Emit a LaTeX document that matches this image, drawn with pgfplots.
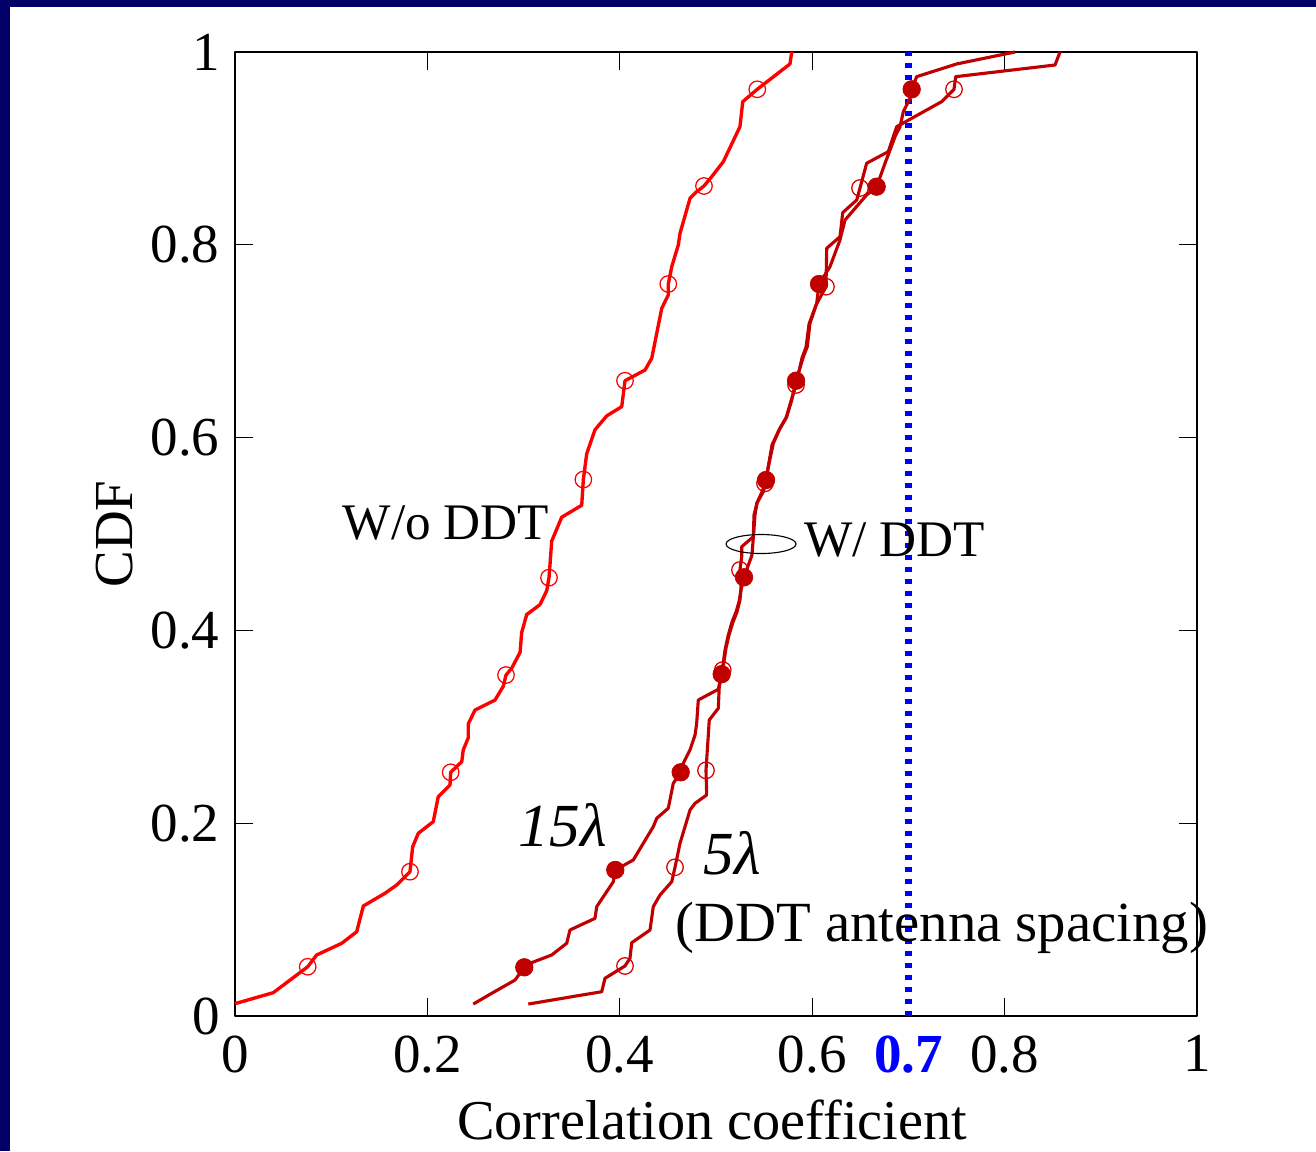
\documentclass[border=0pt]{standalone}
\usepackage{fontspec}
\setmainfont{Liberation Serif}
\usepackage{pgfplots}
\pgfplotsset{compat=1.18}
\definecolor{navy}{RGB}{0,0,102}
\definecolor{dred}{RGB}{192,0,0}
\begin{document}
\begin{tikzpicture}
\fill[navy] (0,0) rectangle (526.4pt,460.4pt);
\fill[white] (4pt,0) rectangle (526.4pt,457.6pt);
\begin{axis}[
  at={(94pt,54pt)}, anchor=south west,
  scale only axis, width=384.8pt, height=385.6pt,
  xmin=0, xmax=1, ymin=0, ymax=1,
  clip=false,
  xtick={0,0.2,0.4,0.6,0.8,1}, xticklabels={0,0.2,0.4,0.6,0.8,1},
  ytick={0,0.2,0.4,0.6,0.8,1}, yticklabels={0,0.2,0.4,0.6,0.8,1},
  tick align=inside, major tick length=7.1pt,
  every tick/.style={black, line width=0.5pt},
  axis line style={black, line width=0.5pt},
  /pgf/number format/assume math mode=true,
  tick label style={font=\fontsize{22}{22}\selectfont, inner sep=0pt},
  xticklabel style={yshift=-7.6pt},
  yticklabel style={xshift=-6pt},
  extra x ticks={0.7}, extra x tick labels={\textbf{0.7}},
  extra x tick style={major tick length=0pt, tick label style={text=blue}},
  xlabel={Correlation coefficient},
  xlabel style={at={(axis description cs:0.496,0)}, anchor=base, yshift=-49.2pt, font=\fontsize{22.5}{22.5}\selectfont},
  ylabel={CDF},
  ylabel style={at={(axis description cs:0,0.5)}, anchor=center, yshift=48pt, font=\fontsize{22}{22}\selectfont},
  line join=round,
]
\addplot[blue, line width=2.5pt, dash pattern=on 2pt off 2.8pt] coordinates {(0.7,0) (0.7,1)};

% W/o DDT
\addplot[red, line width=1.35pt] coordinates {
(0,0.0128) (0.0398,0.0242) (0.0756,0.0511) (0.0849,0.0633) (0.1109,0.0754)
(0.1265,0.0874) (0.1334,0.1141) (0.1559,0.1273) (0.1681,0.1359) (0.1819,0.1497)
(0.1847,0.1756) (0.1905,0.1895) (0.2061,0.2016) (0.2113,0.2275) (0.2235,0.2396)
(0.2242,0.2528) (0.2357,0.2638) (0.2373,0.2761) (0.2425,0.2886) (0.2425,0.3030)
(0.2495,0.3174) (0.2703,0.3278) (0.2789,0.3421) (0.2817,0.3537) (0.2876,0.3607)
(0.2963,0.3772) (0.2980,0.3978) (0.3032,0.4164) (0.3170,0.4267) (0.3240,0.4411)
(0.3264,0.4547) (0.3274,0.4678) (0.3292,0.4926) (0.3344,0.5050) (0.3396,0.5174)
(0.3604,0.5298) (0.3621,0.5565) (0.3656,0.5833) (0.3742,0.6081) (0.3864,0.6225)
(0.4020,0.6321) (0.4054,0.6590) (0.4262,0.6701) (0.4332,0.6823) (0.4436,0.7341)
(0.4504,0.7479) (0.4504,0.7593) (0.4540,0.7773) (0.4608,0.7998) (0.4626,0.8119)
(0.4730,0.8482) (0.4799,0.8551) (0.4875,0.8610) (0.4955,0.8706) (0.5076,0.8862)
(0.5249,0.9225) (0.5278,0.9485) (0.5429,0.9613) (0.5769,0.9876) (0.5787,1)
};
\addplot[only marks, mark=o, mark size=3.3pt, mark options={red, line width=0.5pt}] coordinates {
(0.0756,0.0511) (0.1819,0.1497) (0.2242,0.2528) (0.2817,0.3537) (0.3264,0.4547)
(0.3621,0.5565) (0.4054,0.6590) (0.4504,0.7593) (0.4875,0.8610) (0.5429,0.9613)
};

% 5 lambda
\addplot[dred, line width=1.25pt] coordinates {
(0.3049,0.0124) (0.3812,0.0252) (0.3846,0.0391) (0.4054,0.0519) (0.4106,0.0599)
(0.4124,0.0760) (0.4314,0.0892) (0.4348,0.1134) (0.4418,0.1255) (0.4540,0.1393)
(0.4574,0.1543) (0.4626,0.1792) (0.4730,0.2137) (0.4782,0.2206) (0.4903,0.2293)
(0.4896,0.2548) (0.4930,0.3071) (0.5024,0.3192) (0.5034,0.3421) (0.5070,0.3589)
(0.5104,0.3817) (0.5135,0.3952) (0.5177,0.4087) (0.5218,0.4191) (0.5249,0.4315)
(0.5260,0.4440) (0.5249,0.4627) (0.5267,0.4765) (0.5267,0.4868) (0.5388,0.4972)
(0.5395,0.5197) (0.5426,0.5322) (0.5478,0.5436) (0.5509,0.5526) (0.5541,0.5685)
(0.5582,0.5923) (0.5655,0.6079) (0.5728,0.6203) (0.5780,0.6380) (0.5832,0.6546)
(0.5894,0.6826) (0.5936,0.6940) (0.5967,0.7178) (0.6040,0.7376) (0.6143,0.7565)
(0.6151,0.7964) (0.6289,0.8084) (0.6317,0.8333) (0.6463,0.8465) (0.6497,0.8589)
(0.6566,0.8846) (0.6791,0.8966) (0.6878,0.9225) (0.7346,0.9485) (0.7474,0.9613)
(0.7492,0.9744) (0.8524,0.9865) (0.8576,1)
};
\addplot[only marks, mark=o, mark size=3.3pt, mark options={red!85!black, line width=0.5pt}] coordinates {
(0.4054,0.0519) (0.4574,0.1543) (0.4896,0.2548) (0.5070,0.3589) (0.5249,0.4627)
(0.5509,0.5526) (0.5832,0.6546) (0.6143,0.7565) (0.6497,0.8589) (0.7474,0.9613)
};

% 15 lambda
\addplot[dred, line width=1.25pt] coordinates {
(0.2477,0.0124) (0.2668,0.0235) (0.2911,0.0373) (0.3007,0.0505) (0.3067,0.0547)
(0.3292,0.0633) (0.3448,0.0754) (0.3482,0.0892) (0.3742,0.1013) (0.3760,0.1134)
(0.3933,0.1393) (0.3953,0.1515) (0.4140,0.1618) (0.4348,0.1964) (0.4384,0.2051)
(0.4504,0.2155) (0.4556,0.2414) (0.4633,0.2528) (0.4660,0.2621) (0.4730,0.2761)
(0.4782,0.2915) (0.4799,0.3036) (0.4816,0.3278) (0.5024,0.3389) (0.5059,0.3546)
(0.5094,0.3797) (0.5125,0.3942) (0.5166,0.4087) (0.5208,0.4191) (0.5239,0.4295)
(0.5260,0.4419) (0.5291,0.4551) (0.5374,0.4782) (0.5390,0.4990) (0.5405,0.5197)
(0.5426,0.5322) (0.5492,0.5439) (0.5520,0.5560) (0.5544,0.5698) (0.5596,0.5941)
(0.5665,0.6096) (0.5735,0.6217) (0.5787,0.6390) (0.5832,0.6590) (0.5908,0.6839)
(0.5949,0.6943) (0.5977,0.7186) (0.6047,0.7393) (0.6071,0.7593) (0.6185,0.7773)
(0.6289,0.8050) (0.6341,0.8257) (0.6566,0.8517) (0.6670,0.8603) (0.6757,0.8846)
(0.6809,0.8983) (0.6861,0.9122) (0.6913,0.9225) (0.6947,0.9381) (0.7017,0.9520)
(0.7034,0.9613) (0.7086,0.9744) (0.7502,0.9876) (0.8108,1)
};
\addplot[only marks, mark=*, mark size=3.5pt, mark options={dred, fill=dred, line width=0.3pt}] coordinates {
(0.3007,0.0505) (0.3953,0.1515) (0.4633,0.2528) (0.5059,0.3546) (0.5291,0.4551)
(0.5520,0.5560) (0.5832,0.6590) (0.6071,0.7593) (0.6670,0.8603) (0.7034,0.9613)
};

\draw[black, line width=0.45pt] (axis cs:0.5468,0.4896) ellipse [x radius=14pt, y radius=3.8pt];
\node[anchor=base west, inner sep=0pt, font=\fontsize{20.5}{20.5}\selectfont] at (axis cs:0.1115,0.4938) {W/o DDT};
\node[anchor=base west, inner sep=0pt, font=\fontsize{20.5}{20.5}\selectfont] at (axis cs:0.5913,0.4765) {W/ DDT};
\node[anchor=base west, inner sep=0pt, font=\fontsize{24.5}{24.5}\selectfont\itshape] at (axis cs:0.2945,0.1756) {15λ};
\node[anchor=base west, inner sep=0pt, font=\fontsize{24.5}{24.5}\selectfont\itshape] at (axis cs:0.4868,0.1463) {5λ};
\node[anchor=base west, inner sep=0pt, font=\fontsize{22.7}{22.7}\selectfont] at (axis cs:0.4574,0.0768) {(DDT antenna spacing)};
\end{axis}
\pgfresetboundingbox
\useasboundingbox (0,0) rectangle (526.4pt,460.4pt);
\end{tikzpicture}
\end{document}
